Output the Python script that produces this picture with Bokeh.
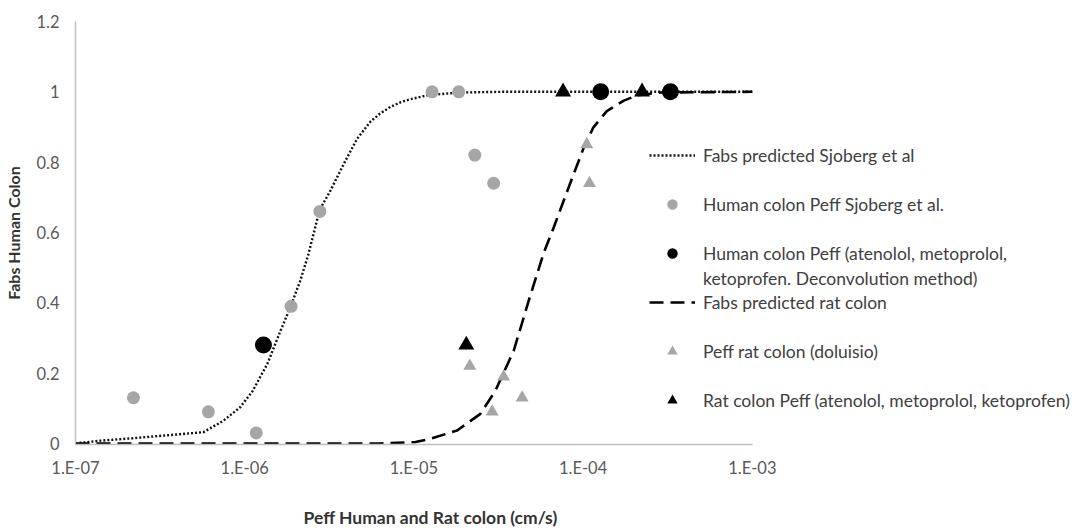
from bokeh.plotting import figure
from bokeh.layouts import column
from bokeh.models import (FixedTicker, CustomJSTickFormatter, Legend, LegendItem,
                          Label, Range1d)
from bokeh.embed import file_html
from bokeh.resources import INLINE

# ---- data ----
x_ticks = [1e-7, 1e-6, 1e-5, 1e-4, 1e-3]
y_ticks = [0, 0.2, 0.4, 0.6, 0.8, 1.0, 1.2]

# Fabs predicted Sjoberg et al (dotted curve)
sjo_curve_peff = [1.0e-7, 1.41e-7, 2.2e-7, 5.7e-7, 7.5e-7, 9.4e-7, 1.11e-6, 1.36e-6,
                  1.63e-6, 1.86e-6, 2.13e-6, 2.37e-6, 2.77e-6, 3.21e-6, 3.85e-6,
                  4.61e-6, 5.53e-6, 6.3e-6, 7.26e-6, 8.3e-6, 9.53e-6, 1.20e-5, 1.83e-5,
                  3.24e-5, 1.0e-4, 1.0e-3]
sjo_curve_fabs = [0.0, 0.008, 0.015, 0.032, 0.065, 0.103, 0.148, 0.226,
                  0.321, 0.387, 0.463, 0.535, 0.664, 0.719, 0.795,
                  0.866, 0.915, 0.938, 0.957, 0.970, 0.979, 0.990, 0.998,
                  1.0, 1.0, 1.0]

# Human colon Peff Sjoberg et al.
human_sjo_peff = [2.2e-7, 6.1e-7, 1.17e-6, 1.88e-6, 2.78e-6, 1.28e-5, 1.84e-5, 2.29e-5, 2.96e-5]
human_sjo_fabs = [0.13, 0.09, 0.03, 0.39, 0.66, 1.0, 1.0, 0.82, 0.74]

# Human colon Peff (deconvolution method)
human_dec_peff = [1.29e-6, 1.27e-4, 3.28e-4]
human_dec_fabs = [0.28, 1.0, 1.0]

# Fabs predicted rat colon (dashed curve)
rat_curve_peff = [1e-7, 6.3e-6, 1.02e-5, 1.25e-5, 1.80e-5, 2.47e-5, 3.03e-5, 3.89e-5,
                  4.77e-5, 5.85e-5, 6.70e-5, 7.67e-5, 8.79e-5, 1.01e-4, 1.15e-4,
                  1.38e-4, 1.74e-4, 2.08e-4, 2.86e-4, 1e-3]
rat_curve_fabs = [0.0, 0.0, 0.004, 0.013, 0.037, 0.084, 0.15, 0.264,
                  0.406, 0.542, 0.614, 0.690, 0.766, 0.842, 0.899,
                  0.945, 0.975, 0.990, 0.998, 1.0]

# Peff rat colon (doluisio)
rat_dol_peff = [2.14e-5, 2.90e-5, 3.39e-5, 4.36e-5, 1.05e-4, 1.09e-4]
rat_dol_fabs = [0.22, 0.09, 0.19, 0.13, 0.85, 0.74]

# Rat colon Peff (atenolol, metoprolol, ketoprofen)
rat_own_peff = [2.04e-5, 7.61e-5, 2.23e-4]
rat_own_fabs = [0.28, 1.0, 1.0]

legend_labels = [
    "Fabs predicted Sjoberg et al",
    "Human colon Peff Sjoberg et al.",
    "Human colon Peff (atenolol, metoprolol,",
    "Fabs predicted rat colon",
    "Peff rat colon (doluisio)",
    "Rat colon Peff (atenolol, metoprolol, ketoprofen)",
]
legend_extra_line = "ketoprofen. Deconvolution method)"
x_title = "Peff Human and Rat colon (cm/s)"
y_title = "Fabs Human Colon"

FONT = "Lato"
GRAY = "#a6a6a6"

p = figure(width=1072, height=500, x_axis_type="log",
           x_range=Range1d(1e-7, 7.8e-2), y_range=Range1d(-0.003, 1.2),
           output_backend="svg", toolbar_location=None,
           min_border_left=75, min_border_right=0, min_border_top=21,
           min_border_bottom=56)
p.outline_line_color = None
p.xgrid.visible = False
p.ygrid.visible = False
p.background_fill_color = "white"

# x axis
xa = p.xaxis[0]
xa.ticker = FixedTicker(ticks=x_ticks)
xa.formatter = CustomJSTickFormatter(code="""
const e = Math.round(Math.log10(tick));
const s = String(Math.abs(e)).padStart(2, "0");
return "1.E" + (e < 0 ? "-" : "+") + s;
""")
xa.bounds = (x_ticks[0], x_ticks[-1])

# y axis
ya = p.yaxis[0]
ya.ticker = FixedTicker(ticks=y_ticks)
ya.formatter = CustomJSTickFormatter(code="return tick.toFixed(1).replace(/\\.0$/, '');")
ya.bounds = (y_ticks[0], y_ticks[-1])
ya.axis_label = y_title
ya.axis_label_text_font = FONT
ya.axis_label_text_font_style = "bold"
ya.axis_label_text_font_size = "16px"
ya.axis_label_text_color = "#333333"
ya.axis_label_standoff = 10

for ax in (xa, ya):
    ax.axis_line_color = "#bfbfbf"
    ax.axis_line_width = 1.5
    ax.major_tick_line_color = None
    ax.minor_tick_line_color = None
    ax.major_tick_out = 0
    ax.major_tick_in = 0
    ax.minor_tick_out = 0
    ax.minor_tick_in = 0
    ax.major_label_text_font = FONT
    ax.major_label_text_font_size = "16.5px"
    ax.major_label_text_color = "#595959"
xa.major_label_standoff = 13
ya.major_label_standoff = 16

# series
r1 = p.line(sjo_curve_peff, sjo_curve_fabs, line_color="#111111", line_width=2.4,
            line_dash="2 2")
r2 = p.scatter(human_sjo_peff, human_sjo_fabs, marker="circle", size=13,
               fill_color=GRAY, line_color=None)
r3 = p.scatter(human_dec_peff, human_dec_fabs, marker="circle", size=17,
               fill_color="black", line_color=None)
r4 = p.line(rat_curve_peff, rat_curve_fabs, line_color="black", line_width=2.6,
            line_dash="14 7")
r5 = p.scatter(rat_dol_peff, rat_dol_fabs, marker="triangle", size=13,
               fill_color=GRAY, line_color=None)
r6 = p.scatter(rat_own_peff, rat_own_fabs, marker="triangle", size=16,
               fill_color="black", line_color=None)
dummy = p.scatter(x=[], y=[], size=1, fill_alpha=0, line_alpha=0)

renderers = [r1, r2, r3, r4, r5, r6]
items = [LegendItem(label=lab, renderers=[r]) for lab, r in zip(legend_labels, renderers)]


def style_legend(leg):
    leg.label_text_font = FONT
    leg.label_text_font_size = "17.5px"
    leg.label_text_color = "#404040"
    leg.glyph_width = 46
    leg.glyph_height = 26
    leg.label_height = 26
    leg.label_standoff = 8
    leg.spacing = 23
    leg.padding = 0
    leg.margin = 0
    leg.border_line_color = None
    leg.background_fill_alpha = 0


leg1 = Legend(items=items, location=(574, 31))
style_legend(leg1)
p.add_layout(leg1)

leg2 = Legend(items=[LegendItem(label=legend_extra_line, renderers=[dummy])],
              location=(574, 153))
style_legend(leg2)
p.add_layout(leg2)

# strip below the chart that carries the x axis title
t = figure(width=1072, height=28, x_range=Range1d(0, 1), y_range=Range1d(0, 1),
           output_backend="svg", toolbar_location=None,
           min_border=0, x_axis_location=None, y_axis_location=None)
t.outline_line_color = None
t.xgrid.visible = False
t.ygrid.visible = False
t.add_layout(Label(x=228, y=11, x_units="screen", y_units="screen", text=x_title,
                   text_font=FONT, text_font_style="bold", text_font_size="17.5px",
                   text_color="#333333", text_baseline="middle", text_align="left"))

layout = column(p, t, spacing=0)
open("out.html", "w").write(file_html(layout, INLINE))
